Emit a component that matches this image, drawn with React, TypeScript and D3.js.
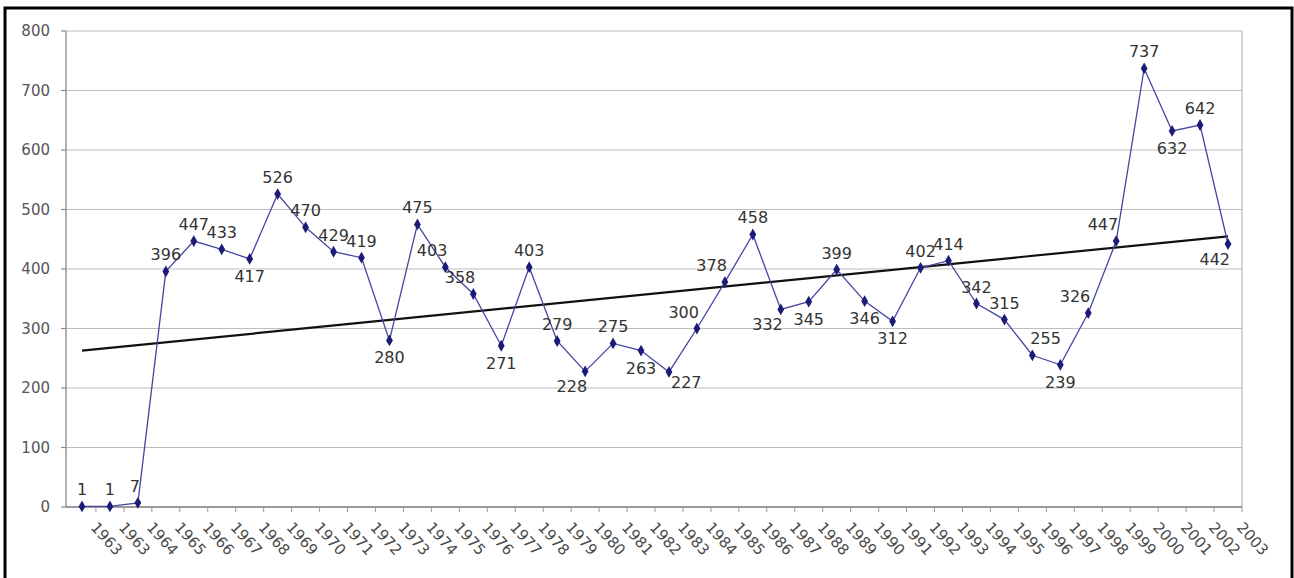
import React from "react";
import * as d3 from "d3";

const years: string[] = [
  "1963", "1963", "1964", "1965", "1966", "1967", "1968", "1969", "1970", "1971",
  "1972", "1973", "1974", "1975", "1976", "1977", "1978", "1979", "1980", "1981",
  "1982", "1983", "1984", "1985", "1986", "1987", "1988", "1989", "1990", "1991",
  "1992", "1993", "1994", "1995", "1996", "1997", "1998", "1999", "2000", "2001",
  "2002", "2003",
];

const values: number[] = [
  1, 1, 7, 396, 447, 433, 417, 526, 470, 429,
  419, 280, 475, 403, 358, 271, 403, 279, 228, 275,
  263, 227, 300, 378, 458, 332, 345, 399, 346, 312,
  402, 414, 342, 315, 255, 239, 326, 447, 737, 632,
  642, 442,
];

// label placement: a = above, b = below, al = above-left, bl = below-left, br = below-right, ar = above-right
const labelPlacement: string[] = [
  "a", "a", "al", "a", "a", "a", "b", "a", "a", "a",
  "a", "b", "a", "al", "al", "b", "a", "a", "bl", "a",
  "b", "br", "al", "al", "a", "bl", "b", "a", "b", "b",
  "a", "a", "a", "a", "ar", "b", "al", "al", "a", "b",
  "a", "bl",
];

const yTicks: number[] = [0, 100, 200, 300, 400, 500, 600, 700, 800];

export default function App() {
  const W = 1294;
  const H = 578;
  const axisX = 66;
  const left = 68;
  const right = 1242;
  const top = 31;
  const bottom = 507;

  const idx = values.map((_, i) => String(i));
  const x = d3.scaleBand<string>().domain(idx).range([left, right]).paddingInner(0).paddingOuter(0);
  const bw = x.bandwidth();
  const cx = (i: number) => (x(String(i)) as number) + bw / 2;
  const y = d3.scaleLinear().domain([0, 800]).range([bottom, top]);

  const line = d3
    .line<number>()
    .x((_, i) => cx(i))
    .y((d) => y(d));

  // linear trend (least squares)
  const n = values.length;
  const xs = values.map((_, i) => i);
  const mx = d3.mean(xs) as number;
  const my = d3.mean(values) as number;
  let sxy = 0;
  let sxx = 0;
  for (let i = 0; i < n; i++) {
    sxy += (xs[i] - mx) * (values[i] - my);
    sxx += (xs[i] - mx) * (xs[i] - mx);
  }
  const slope = sxy / sxx;
  const intercept = my - slope * mx;
  const t0 = intercept;
  const t1 = intercept + slope * (n - 1);

  const diamond = d3.symbol().type(d3.symbolDiamond).size(40)() as string;

  const labelFont = "'DejaVu Sans', Arial, sans-serif";

  return (
    <div style={{ position: "absolute", left: 0, top: 0, width: W, height: H, background: "#fff" }}>
      <svg width={W} height={H} style={{ display: "block" }}>
        <rect x={0} y={0} width={W} height={H} fill="#fff" />
        {/* outer frame */}
        <rect x={5} y={8} width={1287} height={620} fill="none" stroke="#000" strokeWidth={3} />

        {/* gridlines */}
        {yTicks.filter((t) => t > 0).map((t) => (
          <line key={"g" + t} x1={axisX} x2={right} y1={y(t)} y2={y(t)} stroke="#bdbdbd" strokeWidth={1.2} />
        ))}
        {/* plot right border */}
        <line x1={right} x2={right} y1={top} y2={bottom} stroke="#b8b8c8" strokeWidth={1.2} />

        {/* y axis */}
        <line x1={axisX} x2={axisX} y1={top} y2={bottom} stroke="#8a8a8a" strokeWidth={1.3} />
        {yTicks.map((t) => (
          <g key={"yt" + t}>
            <line x1={axisX - 5} x2={axisX} y1={y(t)} y2={y(t)} stroke="#8a8a8a" strokeWidth={1.2} />
            <text
              x={50}
              y={y(t)}
              dy="0.36em"
              textAnchor="end"
              fontFamily={labelFont}
              fontSize={15}
              fill="#555"
            >
              {t}
            </text>
          </g>
        ))}

        {/* x axis */}
        <line x1={axisX} x2={right} y1={bottom} y2={bottom} stroke="#7a7a7a" strokeWidth={1.6} />
        {idx.map((d, i) => (
          <line
            key={"xt" + i}
            x1={(x(d) as number) + bw}
            x2={(x(d) as number) + bw}
            y1={bottom}
            y2={bottom + 5}
            stroke="#9a9a9a"
            strokeWidth={1}
          />
        ))}
        {years.map((yr, i) => (
          <text
            key={"xl" + i}
            transform={`translate(${cx(i) + 8},${bottom + 21}) rotate(48)`}
            fontFamily={labelFont}
            fontSize={15}
            fill="#4a4a4a"
            textAnchor="start"
          >
            {yr}
          </text>
        ))}

        {/* trend line */}
        <line x1={cx(0)} x2={cx(n - 1)} y1={y(t0)} y2={y(t1)} stroke="#111" strokeWidth={2.2} />

        {/* series line */}
        <path d={line(values) as string} fill="none" stroke="#4646a0" strokeWidth={1.3} />
        {values.map((v, i) => (
          <path key={"m" + i} d={diamond} transform={`translate(${cx(i)},${y(v)})`} fill="#1c1c78" />
        ))}

        {/* data labels */}
        {values.map((v, i) => {
          const p = labelPlacement[i];
          const px = cx(i);
          const py = y(v);
          let tx = px;
          let ty = py - 11;
          let anchor: "start" | "middle" | "end" = "middle";
          if (p === "b") {
            ty = py + 23;
          } else if (p === "al") {
            tx = px + 2;
            anchor = "end";
          } else if (p === "ar") {
            tx = px - 2;
            anchor = "start";
          } else if (p === "bl") {
            tx = px + 2;
            ty = py + 21;
            anchor = "end";
          } else if (p === "br") {
            tx = px + 2;
            ty = py + 16;
            anchor = "start";
          }
          return (
            <text
              key={"dl" + i}
              x={tx}
              y={ty}
              textAnchor={anchor}
              fontFamily={labelFont}
              fontSize={16}
              fill="#333"
            >
              {v}
            </text>
          );
        })}
      </svg>
    </div>
  );
}
